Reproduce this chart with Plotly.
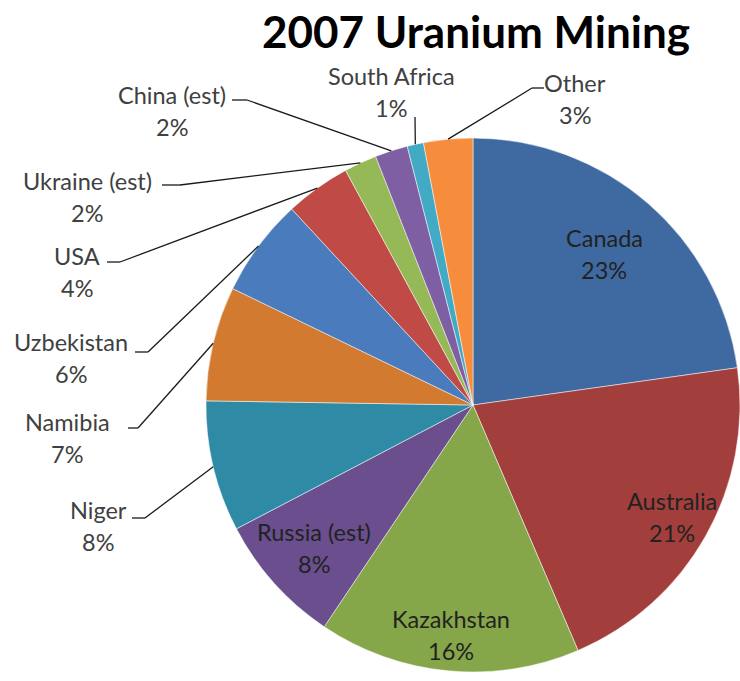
import math
import plotly.graph_objects as go

W, H = 740, 681

# 2007 uranium production share by country (percent), clockwise from 12 o'clock
countries = ["Canada", "Australia", "Kazakhstan", "Russia (est)", "Niger", "Namibia",
             "Uzbekistan", "USA", "Ukraine (est)", "China (est)", "South Africa", "Other"]
shares = [23, 21, 16, 8, 8, 7, 6, 4, 2, 2, 1, 3]

slice_colors = ["#3E6AA1", "#A23E3B", "#86A749", "#6A4E8D", "#2F8AA6", "#D17A30",
                "#4A7BBC", "#BF4A46", "#95B956", "#7E5FA4", "#43AAC5", "#F68D3C"]

title_text = "2007 Uranium Mining"

FONT = "Lato, Carlito, 'Open Sans', sans-serif"

# pie placement in pixels
CX, CY, R = 473.0, 405.0, 267.0


def px(x):
    return min(1.0, max(0.0, x / W))


def py(y):
    return min(1.0, max(0.0, 1 - y / H))


total = sum(shares)
mid_angles = []
acc = 0.0
for v in shares:
    mid_angles.append((acc + v / 2) / total * 360.0)
    acc += v


def polar_point(i, frac=1.0):
    a = math.radians(mid_angles[i])
    return CX + frac * R * math.sin(a), CY - frac * R * math.cos(a)


fig = go.Figure(go.Pie(
    labels=countries,
    values=shares,
    sort=False,
    direction="clockwise",
    rotation=0,
    marker=dict(colors=slice_colors, line=dict(color="rgba(255,255,255,0.5)", width=1)),
    textinfo="none",
    hoverinfo="label+value",
    showlegend=False,
    domain=dict(x=[px(CX - R), px(CX + R)], y=[py(CY + R), py(CY - R)]),
))

annotations = []
shapes = []
LINE_GAP = 32
LABEL_SIZE = 23.5


def add_label(name, pct, x, y_name, color):
    for txt, yy in ((name, y_name), (pct, y_name + LINE_GAP)):
        annotations.append(dict(
            text=txt, x=px(x), y=py(yy), xref="paper", yref="paper",
            xanchor="center", yanchor="middle", showarrow=False,
            font=dict(family=FONT, size=LABEL_SIZE, color=color),
        ))


# labels drawn inside the large slices (fraction of radius along slice bisector)
inside_frac = {"Canada": 0.75, "Australia": 0.855, "Kazakhstan": 0.865, "Russia (est)": 0.80}
for i, name in enumerate(countries):
    if name in inside_frac:
        x, y = polar_point(i, inside_frac[name])
        add_label(name, f"{shares[i]}%", x, y - LINE_GAP / 2, "#222222")

# outside labels: text centre x, name-line y, leader start (x, y) and knee x
outside = {
    "Niger":         dict(x=98,  y=510, lx=132, ly=518, kx=145),
    "Namibia":       dict(x=67,  y=422, lx=128, ly=428, kx=138),
    "Uzbekistan":    dict(x=71,  y=342, lx=135, ly=352, kx=148),
    "USA":           dict(x=77,  y=256, lx=107, ly=262, kx=120),
    "Ukraine (est)": dict(x=87,  y=181, lx=162, ly=185, kx=180),
    "China (est)":   dict(x=172, y=95,  lx=232, ly=100, kx=247),
    "South Africa":  dict(x=391, y=76,  lx=415, ly=117, kx=None),
    "Other":         dict(x=575, y=83,  lx=544, ly=88,  kx=532),
}
for i, name in enumerate(countries):
    if name not in outside:
        continue
    o = outside[name]
    add_label(name, f"{shares[i]}%", o["x"], o["y"], "#404040")
    ex, ey = polar_point(i, 1.0)
    sx, sy = o["lx"], o["ly"]
    if o["kx"] is not None:
        shapes.append(dict(type="line", xref="paper", yref="paper",
                           x0=px(sx), y0=py(sy), x1=px(o["kx"]), y1=py(sy),
                           line=dict(color="#1a1a1a", width=1.3)))
        sx = o["kx"]
    shapes.append(dict(type="line", xref="paper", yref="paper",
                       x0=px(sx), y0=py(sy), x1=px(ex), y1=py(ey),
                       line=dict(color="#1a1a1a", width=1.3)))

annotations.append(dict(
    text=f"<b>{title_text}</b>", x=px(476), y=py(31), xref="paper", yref="paper",
    xanchor="center", yanchor="middle", showarrow=False,
    font=dict(family=FONT, size=44, color="#000000"),
))

fig.update_layout(
    width=W, height=H,
    margin=dict(l=0, r=0, t=0, b=0, pad=0),
    paper_bgcolor="white",
    plot_bgcolor="white",
    annotations=annotations,
    shapes=shapes,
)

fig.write_html("out.html")
